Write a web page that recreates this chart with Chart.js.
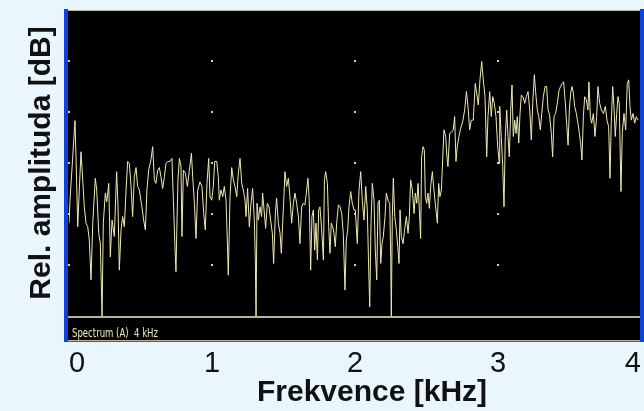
<!DOCTYPE html>
<html>
<head>
<meta charset="utf-8">
<script src="https://cdn.jsdelivr.net/npm/chart.js@4.4.1/dist/chart.umd.min.js"></script>
<style>
  body { margin: 0; background: #eaf6fd; }
  canvas { display: block; }
</style>
</head>
<body>
<canvas id="spectrumChart" width="644" height="411"></canvas>
<script>
// spectrum trace: frequency [kHz] and relative level [dB]
const freqKHz = [
  0, .007, .026, .042, .049, .061, .072, .084, .096, .107, .119, .131, .142, .154, .166, .184, .194, .208, .219, .231,
  .240, .254, .264, .278, .289, .301, .317, .333, .343, .352, .364, .375, .387, .399, .410, .422, .434, .445, .457, .469,
  .480, .492, .510, .522, .534, .545, .557, .573, .585, .597, .608, .620, .632, .643, .655, .667, .678, .690, .706, .720,
  .730, .741, .748, .755, .762, .772, .783, .790, .800, .814, .828, .842, .856, .865, .877, .888, .900, .916, .930, .942,
  .953, .965, .977, .986,
  .998, 1.009, 1.019, 1.033, 1.044, 1.051, 1.063, 1.075, 1.086, 1.098, 1.107, 1.114, 1.126, 1.138, 1.149, 1.161, 1.173, 1.184, 1.196, 1.208,
  1.219, 1.231, 1.238, 1.249, 1.261, 1.273, 1.284, 1.296, 1.303, 1.308, 1.315, 1.324, 1.336, 1.347, 1.354, 1.364, 1.375, 1.387, 1.399, 1.410,
  1.422, 1.431, 1.443, 1.452, 1.464, 1.476, 1.485, 1.494, 1.503, 1.510, 1.522, 1.534, 1.545, 1.557, 1.569, 1.580, 1.592, 1.604, 1.615, 1.627,
  1.638, 1.650, 1.662, 1.671, 1.680, 1.690, 1.699, 1.709, 1.718, 1.727, 1.737, 1.746, 1.755, 1.767, 1.779, 1.786, 1.795, 1.807, 1.816, 1.825,
  1.834, 1.844, 1.853, 1.862, 1.872, 1.884, 1.895, 1.907, 1.918, 1.930, 1.939, 1.949, 1.958, 1.970, 1.981, 1.993,
  2.002, 2.016, 2.028, 2.040, 2.051, 2.063, 2.075, 2.086, 2.096, 2.103, 2.112, 2.121, 2.133, 2.142, 2.152, 2.161, 2.170, 2.180, 2.189, 2.198,
  2.210, 2.219, 2.231, 2.243, 2.250, 2.254, 2.261, 2.268, 2.278, 2.289, 2.299, 2.308, 2.315, 2.324, 2.336, 2.347, 2.359, 2.371, 2.380, 2.389,
  2.401, 2.413, 2.422, 2.432, 2.441, 2.450, 2.459, 2.466, 2.476, 2.485, 2.492, 2.501, 2.510, 2.520, 2.529, 2.541, 2.552, 2.564, 2.576, 2.585,
  2.594, 2.604, 2.613, 2.622, 2.634, 2.643, 2.650, 2.662, 2.673, 2.687, 2.697, 2.706, 2.715, 2.727, 2.739, 2.753, 2.767, 2.779, 2.790, 2.802,
  2.813, 2.827, 2.841, 2.851, 2.862, 2.874, 2.886, 2.897, 2.909, 2.921, 2.930, 2.942, 2.953, 2.963, 2.974, 2.986, 2.998, 3.009,
  3.012, 3.023, 3.033, 3.042, 3.051, 3.061, 3.070, 3.079, 3.089, 3.098, 3.107, 3.117, 3.126, 3.135, 3.145, 3.154, 3.163, 3.175, 3.187, 3.198,
  3.210, 3.222, 3.233, 3.243, 3.254, 3.266, 3.275, 3.285, 3.296, 3.306, 3.317, 3.329, 3.340, 3.350, 3.361, 3.373, 3.382, 3.392, 3.403, 3.415,
  3.427, 3.438, 3.448, 3.459, 3.471, 3.480, 3.490, 3.499, 3.508, 3.517, 3.527, 3.536, 3.548, 3.559, 3.569, 3.578, 3.587, 3.597, 3.606, 3.618,
  3.629, 3.636, 3.646, 3.655, 3.667, 3.678, 3.690, 3.699, 3.711, 3.723, 3.737, 3.751, 3.762, 3.774, 3.783, 3.792, 3.802, 3.811, 3.820, 3.830,
  3.839, 3.848, 3.860, 3.869, 3.881, 3.893, 3.904, 3.914, 3.923, 3.932, 3.944, 3.956, 3.967, 3.979
];
const levelDb = [
  -41.8, -37.3, -28.8, -21.7, -28.8, -42.5, -35.3, -27.8, -33.3, -38.6, -41.8, -42.5, -45.1, -52.9, -41.8, -33.0, -35.3, -43.8, -45.8, -60,
  -41.8, -35.9, -37.6, -34.0, -48.4, -41.2, -44.4, -31.7, -38.6, -51.0, -43.1, -40.5, -42.5, -35.3, -29.7, -30.1, -34.6, -40.5, -32.7, -30.9,
  -34.6, -35.3, -38.6, -41.2, -43.1, -35.3, -31.4, -29.4, -26.8, -33.3, -34.0, -31.4, -30.9, -32.7, -35.0, -32.7, -30.1, -29.7, -29.7, -29.1,
  -37.3, -46.4, -51.3, -41.8, -33.3, -29.1, -30.7, -44.4, -31.4, -32.0, -34.6, -31.4, -28.1, -32.7, -37.9, -44.8, -35.3, -33.7, -34.6, -39.9,
  -43.1, -34.0, -29.1, -36.6,
  -37.3, -34.6, -29.7, -29.7, -32.7, -37.3, -35.3, -36.6, -34.6, -37.3, -45.1, -52.0, -36.6, -30.9, -33.3, -34.6, -36.6, -32.0, -29.1, -34.0,
  -35.3, -37.3, -40.5, -35.0, -42.5, -37.9, -35.0, -41.2, -49.0, -60, -37.9, -41.2, -38.6, -40.5, -35.9, -39.2, -42.8, -37.9, -38.6, -41.2,
  -43.8, -49.7, -39.9, -36.9, -41.8, -43.8, -47.7, -41.8, -36.6, -31.7, -34.6, -33.0, -36.6, -41.8, -37.9, -35.9, -37.9, -40.5, -45.8, -38.6,
  -37.9, -38.2, -35.3, -33.0, -37.3, -51.0, -40.5, -39.2, -47.1, -41.8, -49.0, -39.2, -38.6, -43.1, -49.0, -33.3, -31.7, -34.0, -42.5, -47.7,
  -41.8, -42.5, -43.8, -46.4, -41.8, -38.2, -38.6, -39.9, -43.8, -54.9, -45.1, -43.1, -38.6, -35.6, -37.9, -39.2,
  -39.2, -45.8, -35.3, -31.7, -37.3, -41.2, -34.6, -39.2, -51.0, -58.2, -41.8, -34.0, -37.3, -47.1, -52.9, -37.9, -37.3, -49.7, -45.8, -44.4,
  -40.5, -35.9, -37.3, -37.9, -49.0, -60, -40.5, -33.0, -40.5, -43.1, -46.4, -49.7, -39.2, -44.4, -45.8, -43.1, -40.5, -43.8, -40.5, -33.3,
  -35.3, -39.9, -35.9, -37.9, -34.0, -39.2, -44.8, -28.8, -26.8, -27.5, -36.6, -37.9, -35.9, -38.9, -34.6, -31.7, -35.3, -38.6, -41.8, -34.0,
  -36.6, -35.3, -29.4, -23.5, -24.8, -28.8, -30.7, -24.2, -24.0, -23.5, -20.9, -29.7, -26.8, -24.8, -23.2, -21.9, -19.6, -16.0, -18.9, -23.5,
  -21.6, -21.6, -14.4, -16.3, -18.6, -13.7, -10.1, -13.7, -17.0, -28.8, -20.9, -16.0, -20.9, -17.0, -18.3, -20.9, -26.8, -30.1,
  -18.9, -24.8, -30.7, -38.6, -24.8, -19.6, -24.8, -28.8, -19.6, -14.7, -24.8, -21.6, -24.2, -20.9, -26.1, -20.3, -16.7, -17.0, -18.3, -17.0,
  -16.0, -19.6, -25.5, -18.3, -12.7, -17.0, -19.6, -20.9, -23.5, -20.3, -17.0, -15.0, -15.0, -19.6, -20.6, -24.2, -28.8, -20.9, -20.3, -18.3,
  -15.7, -15.0, -14.4, -14.1, -18.3, -22.2, -26.5, -19.6, -16.3, -15.0, -16.3, -18.9, -20.3, -22.2, -24.2, -26.1, -29.4, -20.9, -17.0, -17.6,
  -19.6, -14.1, -20.9, -22.2, -20.3, -24.8, -20.9, -15.0, -18.3, -19.6, -20.3, -18.9, -21.6, -22.9, -33.0, -22.2, -15.0, -18.9, -24.8, -20.3,
  -17.0, -18.3, -35.6, -24.2, -20.3, -23.5, -14.4, -13.7, -18.9, -21.6, -20.3, -22.2, -20.9, -21.6
];

// dotted graticule positions
const gridKHz = [0, 1, 2, 3];
const gridDb = [-10, -20, -30, -40, -50];
const stripLabel = 'Spectrum (A)  4 kHz';
const xTitle = 'Frekvence [kHz]';

const points = freqKHz.map((f, i) => ({x: f, y: levelDb[i]}));
const fontFamily = '"Liberation Sans", Arial, sans-serif';

// analyser screen: black panel, blue side bars, dots and status strip
const scopePanel = {
    id: 'scopePanel',
    beforeDraw(chart) {
        const {ctx, chartArea, scales} = chart;
        const left = chartArea.left - 1;
        const right = chartArea.right - 1;
        const top = chartArea.top;
        const bottom = chartArea.bottom + 26;
        ctx.save();
        ctx.fillStyle = '#eaf6fd';
        ctx.fillRect(0, 0, chart.width, chart.height);

        ctx.fillStyle = '#000';
        ctx.fillRect(left, top, right - left, bottom - top);

        // thin frame lines and the floor line
        ctx.fillStyle = '#b9b594';
        ctx.fillRect(left, top, right - left, 1);
        ctx.fillRect(left, chartArea.bottom, right - left, 2);
        ctx.fillRect(left, bottom - 2, right - left, 1.5);

        // blue bars on both sides
        ctx.fillStyle = '#0f42dc';
        ctx.fillRect(left - 4, top - 1, 4, bottom - top + 1);
        ctx.fillRect(right, top - 1, chart.width - right, bottom - top + 1);

        ctx.fillStyle = '#d6d2a6';
        gridKHz.forEach(f => {
            gridDb.forEach(d => {
                const px = Math.round(scales.x.getPixelForValue(f));
                const py = Math.round(scales.y.getPixelForValue(d));
                ctx.fillRect(px - 1, py - 1, 2, 2);
            });
        });

        // status strip text, squeezed like the analyser font
        ctx.font = '13px "Liberation Sans Narrow", "DejaVu Sans Condensed", sans-serif';
        ctx.fillStyle = '#efebb8';
        ctx.textBaseline = 'alphabetic';
        const w = ctx.measureText(stripLabel).width;
        ctx.translate(left + 4, bottom - 5);
        ctx.scale(86 / w, 1);
        ctx.fillText(stripLabel, 0, 0);
        ctx.restore();
    },
    afterDraw(chart) {
        // axis caption sits a little right of the plot centre
        const {ctx, chartArea} = chart;
        ctx.save();
        ctx.font = 'bold 30px ' + fontFamily;
        ctx.fillStyle = '#111';
        ctx.textAlign = 'center';
        ctx.textBaseline = 'middle';
        ctx.fillText(xTitle, (chartArea.left + chartArea.right) / 2 + 17, 393);
        ctx.restore();
    }
};

new Chart(document.getElementById('spectrumChart'), {
    type: 'line',
    data: {
        datasets: [{
            data: points,
            borderColor: '#eeeab4',
            borderWidth: 1,
            pointRadius: 0,
            tension: 0,
            fill: false
        }]
    },
    options: {
        responsive: false,
        animation: false,
        devicePixelRatio: 1,
        layout: { padding: { top: 10, right: 3, left: 0, bottom: 0 } },
        plugins: {
            legend: { display: false },
            tooltip: { enabled: false }
        },
        scales: {
            x: {
                type: 'linear',
                min: 0,
                max: 4,
                afterFit: scale => {
                    // the big tick padding should not shrink the plot sideways
                    scale.height = 95;
                    scale.paddingLeft = 0;
                    scale.paddingRight = 0;
                },
                grid: { display: false, drawTicks: false },
                border: { display: false },
                ticks: {
                    stepSize: 1,
                    align: 'inner',
                    padding: 31,
                    color: '#111',
                    font: { family: fontFamily, size: 29 }
                },
                title: { display: false }
            },
            y: {
                type: 'linear',
                min: -60,
                max: 0,
                afterFit: scale => { scale.width = 69; },
                grid: { display: false, drawTicks: false },
                border: { display: false },
                ticks: { display: false },
                title: {
                    display: true,
                    text: 'Rel. amplituda [dB]',
                    color: '#111',
                    font: { family: fontFamily, size: 30, weight: 'bold' },
                    padding: { top: 24, bottom: 0 }
                }
            }
        }
    },
    plugins: [scopePanel]
});
</script>
</body>
</html>
